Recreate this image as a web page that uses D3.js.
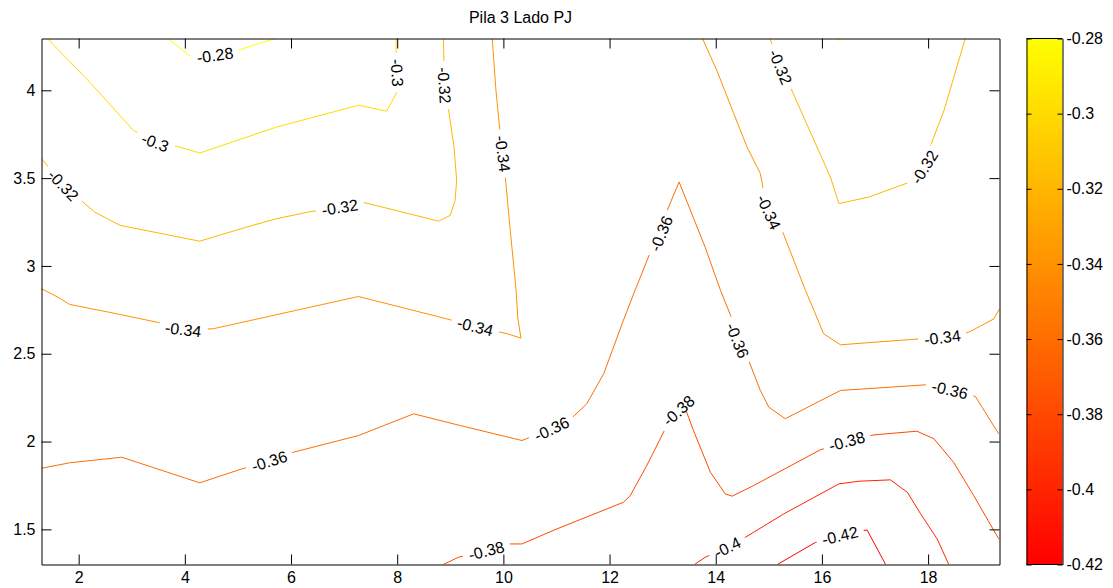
<!DOCTYPE html>
<html>
<head>
<meta charset="utf-8">
<script src="https://cdn.jsdelivr.net/npm/d3@7"></script>
<style>
  html, body { margin: 0; padding: 0; background: #fff; }
  svg { display: block; }
  text { font-family: "Liberation Sans", Arial, Helvetica, sans-serif; }
</style>
</head>
<body>
<script>
// ---------------- data ----------------
const chartTitle = "Pila 3 Lado PJ";
const xDomain = [1.3, 19.345];
const yDomain = [1.3, 4.295];
const xTicks = [2, 4, 6, 8, 10, 12, 14, 16, 18];
const yTicks = [1.5, 2, 2.5, 3, 3.5, 4];
const colorDomain = [-0.42, -0.28];
const colorTicks = [-0.42, -0.4, -0.38, -0.36, -0.34, -0.32, -0.3, -0.28];
const colorTickLabels = ["-0.42", "-0.4", "-0.38", "-0.36", "-0.34", "-0.32", "-0.3", "-0.28"];

// contour polylines [x, y]
const c028a = [[3.68,4.295],[4.10,4.194],[4.57,4.20],[5.06,4.234],[5.70,4.295]];
const c028b = [[16.28,4.295],[16.32,4.285],[16.36,4.295]];
const c030 = [[1.41,4.295],[2.21,4.046],[3.03,3.772],[3.44,3.704],[3.85,3.681],[4.28,3.643],[5.73,3.791],[7.27,3.915],[7.80,3.881],[8.02,4.004],[8.00,4.10],[7.98,4.228],[7.98,4.295]];
const c032a = [[1.30,3.611],[1.71,3.459],[2.08,3.364],[2.30,3.307],[2.78,3.231],[4.28,3.141],[5.16,3.221],[5.73,3.269],[6.33,3.307],[6.92,3.334],[7.39,3.360],[8.78,3.255],[9.00,3.288],[9.09,3.373],[9.12,3.487],[9.07,3.677],[8.96,3.905],[8.89,4.029],[8.87,4.295]];
const c032b = [[15.02,4.295],[15.22,4.133],[15.41,4.016],[15.78,3.763],[16.16,3.506],[16.32,3.355],[16.88,3.392],[17.61,3.472],[17.93,3.563],[18.05,3.687],[18.30,3.886],[18.70,4.295]];
const c034a = [[9.79,4.295],[9.86,4.000],[9.94,3.753],[9.99,3.639],[10.03,3.526],[10.13,3.202],[10.24,2.861],[10.27,2.708],[10.33,2.589],[10.07,2.614],[9.47,2.655],[8.93,2.699],[7.27,2.826],[4.53,2.642],[3.97,2.638],[3.47,2.680],[2.71,2.728],[1.83,2.781],[1.61,2.822],[1.30,2.870]];
const c034b = [[13.75,4.295],[14.02,4.114],[14.34,3.867],[14.59,3.677],[14.84,3.526],[14.90,3.430],[15.00,3.307],[15.25,3.202],[15.69,2.861],[15.85,2.747],[16.03,2.614],[16.35,2.551],[17.67,2.581],[18.27,2.593],[18.77,2.623],[19.24,2.699],[19.345,2.756]];
const c036 = [[1.30,1.848],[1.83,1.879],[2.81,1.911],[4.28,1.765],[5.04,1.841],[5.59,1.889],[6.04,1.939],[7.27,2.034],[8.31,2.158],[9.19,2.091],[10.35,2.006],[10.91,2.073],[11.32,2.143],[11.57,2.215],[11.89,2.386],[12.26,2.690],[12.48,2.861],[12.77,3.079],[12.97,3.184],[13.08,3.312],[13.31,3.478],[13.80,3.107],[14.09,2.861],[14.28,2.718],[14.41,2.576],[14.62,2.462],[14.84,2.291],[15.00,2.196],[15.31,2.130],[16.35,2.291],[17.95,2.323],[18.41,2.295],[18.89,2.257],[19.33,2.044]];
const c038 = [[8.87,1.30],[9.15,1.341],[9.68,1.379],[10.13,1.417],[10.35,1.417],[11.01,1.503],[12.26,1.654],[12.39,1.692],[12.70,1.863],[13.08,2.091],[13.30,2.177],[13.43,2.186],[13.58,2.063],[13.90,1.825],[14.18,1.702],[14.31,1.689],[14.71,1.749],[15.97,1.953],[16.47,2.002],[16.98,2.038],[17.79,2.059],[18.11,2.016],[18.48,1.882],[18.86,1.692],[19.33,1.446]];
const c040 = [[13.60,1.30],[13.80,1.341],[14.22,1.398],[14.56,1.455],[15.28,1.588],[16.32,1.759],[16.69,1.774],[17.29,1.782],[17.61,1.711],[17.86,1.588],[18.17,1.446],[18.39,1.30]];
const c042 = [[15.16,1.30],[15.88,1.426],[16.34,1.465],[16.85,1.497],[17.20,1.30]];

// level, polyline, vertices that carry an inline label
const contours = [
  {level: -0.28, pts: c028a, labelAt: [2]},
  {level: -0.28, pts: c028b, labelAt: []},
  {level: -0.30, pts: c030,  labelAt: [3, 10]},
  {level: -0.32, pts: c032a, labelAt: [1, 9, 17]},
  {level: -0.32, pts: c032b, labelAt: [1, 8]},
  {level: -0.34, pts: c034a, labelAt: [3, 10, 14]},
  {level: -0.34, pts: c034b, labelAt: [6, 13]},
  {level: -0.36, pts: c036,  labelAt: [5, 11, 18, 24, 31]},
  {level: -0.38, pts: c038,  labelAt: [2, 10, 18]},
  {level: -0.40, pts: c040,  labelAt: [2]},
  {level: -0.42, pts: c042,  labelAt: [2]}
];

// ---------------- drawing ----------------
const W = 1113, H = 588;
const L = 41.5, R = 999.5, T = 38.5, B = 564.5;
const fontSize = 16;

const svg = d3.select("body").append("svg").attr("width", W).attr("height", H);
svg.append("rect").attr("width", W).attr("height", H).attr("fill", "#fff");

const x = d3.scaleLinear().domain(xDomain).range([L, R]);
const y = d3.scaleLinear().domain(yDomain).range([B, T]);
const color = d3.scaleLinear().domain(colorDomain).range(["#ff0000", "#ffff00"]);

svg.append("defs").append("clipPath").attr("id", "plotclip")
  .append("rect").attr("x", L).attr("y", T).attr("width", R - L).attr("height", B - T);

svg.append("rect").attr("x", L).attr("y", T).attr("width", R - L).attr("height", B - T).attr("fill", "#fff");

const plot = svg.append("g").attr("clip-path", "url(#plotclip)");
const line = d3.line().x(d => x(d[0])).y(d => y(d[1]));

plot.selectAll("path.contour").data(contours).join("path")
  .attr("class", "contour")
  .attr("d", d => line(d.pts))
  .attr("fill", "none")
  .attr("stroke", d => color(d.level))
  .attr("stroke-width", 1);

// inline labels
const labelData = [];
contours.forEach(c => {
  c.labelAt.forEach(i => {
    const p = c.pts[i], a = c.pts[Math.max(0, i - 1)], b = c.pts[Math.min(c.pts.length - 1, i + 1)];
    let ang = Math.atan2(y(b[1]) - y(a[1]), x(b[0]) - x(a[0])) * 180 / Math.PI;
    if (ang > 90) ang -= 180;
    if (ang < -90) ang += 180;
    labelData.push({px: x(p[0]), py: y(p[1]), ang, text: String(+c.level.toFixed(2))});
  });
});

const lg = plot.selectAll("g.lab").data(labelData).join("g")
  .attr("class", "lab")
  .attr("transform", d => `translate(${d.px},${d.py}) rotate(${d.ang})`);
const bg = lg.append("rect").attr("fill", "#fff");
const lt = lg.append("text")
  .attr("text-anchor", "middle")
  .attr("dy", "0.36em")
  .attr("font-size", fontSize)
  .attr("fill", "#000")
  .text(d => d.text);
lt.each(function(d) { d.w = this.getComputedTextLength(); });
bg.attr("x", d => -d.w / 2 - 6).attr("y", -6).attr("width", d => d.w + 12).attr("height", 12);

// axes
function styleAxis(g) {
  g.selectAll("path.domain").attr("stroke", "#000").attr("stroke-width", 1);
  g.selectAll(".tick line").attr("stroke", "#000").attr("stroke-width", 1);
  g.selectAll(".tick text").attr("fill", "#000").attr("font-size", fontSize)
    .attr("font-family", '"Liberation Sans", Arial, Helvetica, sans-serif');
}
const tk = 10;
svg.append("g").attr("transform", `translate(0,${B})`)
  .call(d3.axisBottom(x).tickValues(xTicks).tickSizeInner(-tk).tickSizeOuter(0).tickPadding(7).tickFormat(d3.format("d")))
  .call(styleAxis);
svg.append("g").attr("transform", `translate(0,${T})`)
  .call(d3.axisTop(x).tickValues(xTicks).tickSizeInner(-tk).tickSizeOuter(0).tickFormat(""))
  .call(styleAxis);
svg.append("g").attr("transform", `translate(${L},0)`)
  .call(d3.axisLeft(y).tickValues(yTicks).tickSizeInner(-tk).tickSizeOuter(0).tickPadding(6).tickFormat(d => String(d)))
  .call(styleAxis);
svg.append("g").attr("transform", `translate(${R},0)`)
  .call(d3.axisRight(y).tickValues(yTicks).tickSizeInner(-tk).tickSizeOuter(0).tickFormat(""))
  .call(styleAxis);

// title
svg.append("text").attr("x", (L + R) / 2).attr("y", 22.5)
  .attr("text-anchor", "middle").attr("font-size", fontSize).attr("fill", "#000")
  .text(chartTitle);

// colorbar
const CL = 1026.5, CR = 1062.5;
const cy = d3.scaleLinear().domain(colorDomain).range([B, T]);
const grad = svg.select("defs").append("linearGradient").attr("id", "cbgrad")
  .attr("x1", 0).attr("y1", 1).attr("x2", 0).attr("y2", 0);
grad.append("stop").attr("offset", "0%").attr("stop-color", color(colorDomain[0]));
grad.append("stop").attr("offset", "100%").attr("stop-color", color(colorDomain[1]));
svg.append("rect").attr("x", CL).attr("y", T).attr("width", CR - CL).attr("height", B - T)
  .attr("fill", "url(#cbgrad)");
const ctk = 5;
svg.append("g").attr("transform", `translate(${CR},0)`)
  .call(d3.axisRight(cy).tickValues(colorTicks).tickSizeInner(-ctk).tickSizeOuter(0).tickPadding(4)
    .tickFormat((d, i) => colorTickLabels[i]))
  .call(styleAxis);
svg.append("g").attr("transform", `translate(${CL},0)`)
  .call(d3.axisLeft(cy).tickValues(colorTicks).tickSizeInner(-ctk).tickSizeOuter(0).tickFormat(""))
  .call(styleAxis);
svg.append("line").attr("x1", CL).attr("x2", CR).attr("y1", T).attr("y2", T).attr("stroke", "#000");
svg.append("line").attr("x1", CL).attr("x2", CR).attr("y1", B).attr("y2", B).attr("stroke", "#000");
</script>
</body>
</html>
